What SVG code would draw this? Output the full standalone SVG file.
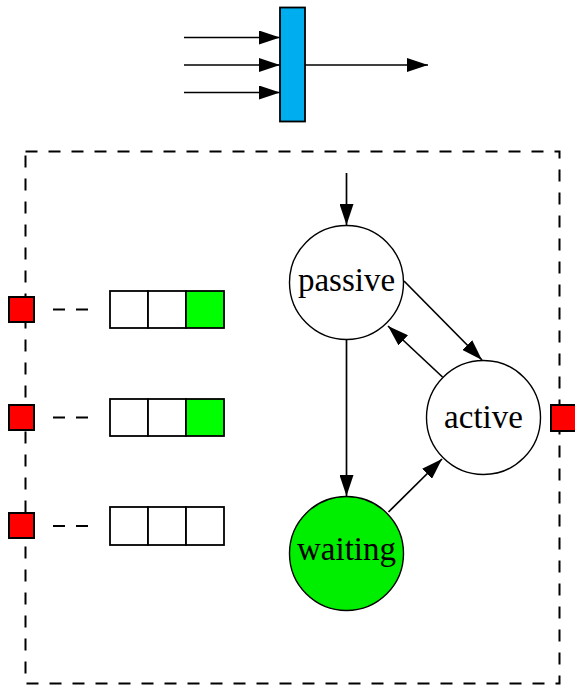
<svg xmlns="http://www.w3.org/2000/svg" width="575" height="688" viewBox="0 0 575 688">
  <style>
    .edge { stroke: #000; stroke-width: 1.7; fill: none; }
    .dash { stroke: #000; stroke-width: 2; fill: none; stroke-dasharray: 12 11; }
    .port { fill: #ff0000; stroke: #000; stroke-width: 2; }
    .cell { fill: #ffffff; stroke: #000; stroke-width: 1.8; }
    .cell-on { fill: #00ff00; stroke: #000; stroke-width: 1.8; }
    .state { stroke: #000; stroke-width: 1.4; }
    .label { font-family: "Liberation Serif", "Times New Roman", serif; font-size: 33px; text-anchor: middle; fill: #000; }
  </style>
  <defs>
    <marker id="arrow" viewBox="0 0 21 14" refX="21" refY="7" markerWidth="21" markerHeight="14" markerUnits="userSpaceOnUse" orient="auto">
      <path d="M0,0 L21,7 L0,14 Z" fill="#000"/>
    </marker>
  </defs>

  <rect fill="#ffffff" x="0" y="0" width="575" height="688"/>

  <!-- process boundary -->
  <rect id="boundary" class="dash" x="25.5" y="151.5" width="534" height="532"/>

  <!-- joining block with three inputs and one output -->
  <g id="join">
    <rect x="280" y="7.5" width="25" height="114" fill="#00aeef" stroke="#000" stroke-width="1.8"/>
  </g>

  <!-- ports on the boundary -->
  <g id="port-in-1"><rect class="port" x="9" y="297" width="25" height="25"/></g>
  <g id="port-in-2"><rect class="port" x="9" y="405" width="25" height="25"/></g>
  <g id="port-in-3"><rect class="port" x="9" y="513" width="25" height="25"/></g>
  <g id="port-out"><rect class="port" x="551" y="405" width="26" height="26"/></g>

  <!-- input queues -->
  <g id="queue-1">
    <rect class="cell" x="110" y="291" width="38" height="37"/>
    <rect class="cell" x="148" y="291" width="38" height="37"/>
    <rect class="cell-on" x="186" y="291" width="38" height="37"/>
  </g>
  <g id="queue-2">
    <rect class="cell" x="110" y="399" width="38" height="37"/>
    <rect class="cell" x="148" y="399" width="38" height="37"/>
    <rect class="cell-on" x="186" y="399" width="38" height="37"/>
  </g>
  <g id="queue-3">
    <rect class="cell" x="110" y="507" width="38" height="38"/>
    <rect class="cell" x="148" y="507" width="38" height="38"/>
    <rect class="cell" x="186" y="507" width="38" height="38"/>
  </g>

  <!-- states -->
  <g id="passive">
    <circle class="state" cx="346.5" cy="282.5" r="57" fill="#ffffff"/>
    <text class="label" x="346.5" y="291">passive</text>
  </g>
  <g id="active">
    <circle class="state" cx="483.5" cy="417.5" r="57" fill="#ffffff"/>
    <text class="label" x="483.5" y="428">active</text>
  </g>
  <g id="waiting">
    <circle class="state" cx="346.5" cy="553.5" r="57" fill="#00ee00"/>
    <text class="label" x="346.5" y="560">waiting</text>
  </g>

  <!-- connectors -->
  <g id="connectors">
    <line class="edge" x1="184" y1="37.5" x2="280" y2="37.5" marker-end="url(#arrow)"/>
    <line class="edge" x1="184" y1="65" x2="280" y2="65" marker-end="url(#arrow)"/>
    <line class="edge" x1="184" y1="92.5" x2="280" y2="92.5" marker-end="url(#arrow)"/>
    <line class="edge" x1="305" y1="65" x2="428" y2="65" marker-end="url(#arrow)"/>

    <line class="dash" x1="53" y1="309.5" x2="88" y2="309.5"/>
    <line class="dash" x1="53" y1="417.5" x2="88" y2="417.5"/>
    <line class="dash" x1="53" y1="526" x2="88" y2="526"/>

    <line class="edge" x1="346.5" y1="173" x2="346.5" y2="225" marker-end="url(#arrow)"/>
    <line class="edge" x1="346.5" y1="340" x2="346.5" y2="496" marker-end="url(#arrow)"/>
    <line class="edge" x1="404" y1="281" x2="482" y2="360" marker-end="url(#arrow)"/>
    <line class="edge" x1="442.5" y1="377" x2="388" y2="326" marker-end="url(#arrow)"/>
    <line class="edge" x1="388.5" y1="512" x2="442" y2="459" marker-end="url(#arrow)"/>
  </g>
</svg>
